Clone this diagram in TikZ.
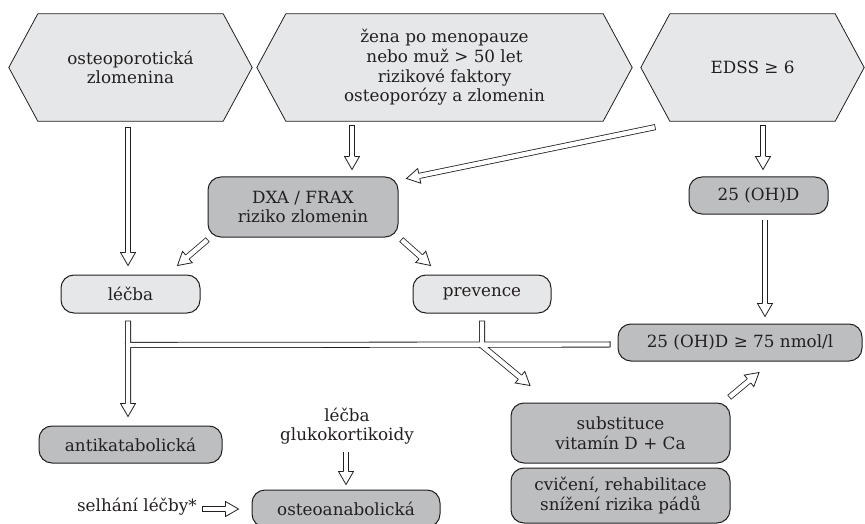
\documentclass[tikz,border=0pt]{standalone}
\usepackage{fontspec}
\setmainfont{DejaVu Serif}
\usetikzlibrary{calc,backgrounds}
\definecolor{ink}{HTML}{231F20}
\definecolor{lightg}{HTML}{E6E7E8}
\definecolor{darkg}{HTML}{BCBEC0}
\newcommand\arrL{13pt}
\newcommand\arrW{7.5pt}
\newcommand\arrS{2.6pt}
\tikzset{
  txt/.style={font=\fontsize{16.8}{19.6}\selectfont, text=ink, align=center, inner sep=0pt},
  hexnode/.style={txt, minimum height=107pt},
  rbox/.style={txt, draw=ink, line width=1pt, rounded corners=13pt, fill=#1},
  hexline/.style={fill=lightg, draw=ink, line width=0.8pt},
  shaft/.style={draw=ink, line width=0.8pt, double=white, double distance=4.4pt, line cap=rect},
  headline/.style={draw=ink, line width=0.8pt, line join=miter},
}
% head of a hollow arrow pointing from #1 to #2, tip at #2
\newcommand\hhead[2]{%
  \fill[white] let \p1=#1, \p2=#2, \n1={atan2(\y2-\y1,\x2-\x1)} in
    (\p2) -- ($(\p2)+(\n1+180:\arrL)+(\n1+90:\arrW)$) -- ($(\p2)+(\n1+180:\arrL)+(\n1-90:\arrW)$) -- cycle;
  \draw[headline] let \p1=#1, \p2=#2, \n1={atan2(\y2-\y1,\x2-\x1)} in
    ($(\p2)+(\n1+180:\arrL)+(\n1+90:\arrS)$) -- ($(\p2)+(\n1+180:\arrL)+(\n1+90:\arrW)$) -- (\p2)
    -- ($(\p2)+(\n1+180:\arrL)+(\n1-90:\arrW)$) -- ($(\p2)+(\n1+180:\arrL)+(\n1-90:\arrS)$);
}
% complete hollow arrow from #1 to #2
\newcommand\harrow[2]{%
  \draw[shaft] let \p1=#1, \p2=#2, \n1={atan2(\y2-\y1,\x2-\x1)} in
    (\p1) -- ($(\p2)+(\n1+180:\arrL)$);
  \hhead{#1}{#2}%
}
\newcommand\hexshape[1]{%
  \draw[hexline] (#1.west) -- ([xshift=29pt]#1.north west) -- ([xshift=-29pt]#1.north east)
    -- (#1.east) -- ([xshift=-29pt]#1.south east) -- ([xshift=29pt]#1.south west) -- cycle;}
\begin{document}
\begin{tikzpicture}[x=1pt,y=-1pt]
\useasboundingbox (0,0) rectangle (865,524);

% top hexagons
\node[hexnode, minimum width=243pt] (h1) at (130.5,67.5) {osteoporotická\\zlomenina};
\node[hexnode, minimum width=375pt] (h2) at (444.5,67.5) {žena po menopauze\\nebo muž > 50 let\\rizikové faktory\\osteoporózy a zlomenin};
\node[hexnode, minimum width=223pt] (h3) at (752.5,67.5) {EDSS ≥ 6};
\begin{scope}[on background layer]
  \hexshape{h1}\hexshape{h2}\hexshape{h3}
\end{scope}

% boxes
\node[rbox=darkg, minimum width=190pt, minimum height=60pt] (dxa) at (303,207) {DXA / FRAX\\riziko zlomenin};
\node[rbox=lightg, minimum width=139pt, minimum height=38pt] (lecba) at (130.5,294) {léčba};
\node[rbox=lightg, minimum width=138pt, minimum height=38pt] (prev) at (482,294) {prevence};
\node[rbox=darkg, minimum width=139pt, minimum height=37pt] (oh) at (758.5,195.5) {25 (OH)D};
\node[rbox=darkg, minimum width=244pt, minimum height=37pt] (oh75) at (740,342.5) {25 (OH)D ≥ 75 nmol/l};
\node[rbox=darkg, minimum width=219pt, minimum height=60pt] (subst) at (620.5,433) {substituce\\vitamín D + Ca};
\node[rbox=darkg, minimum width=219pt, minimum height=55pt] (cvic) at (620.5,495.5) {cvičení, rehabilitace\\snížení rizika pádů};
\node[rbox=darkg, minimum width=183pt, minimum height=37pt] (anti) at (130.5,444.5) {antikatabolická};
\node[rbox=darkg, minimum width=188pt, minimum height=37pt] (osteo) at (346,508.5) {osteoanabolická};
\node[txt] (glu) at (347,426) {léčba\\glukokortikoidy};
\node[txt, anchor=east] (selh) at (197,507) {selhání léčby*};

% simple hollow arrows
\harrow{($(h1.south)+(-2.5,9)$)}{($(lecba.north)+(-2.5,-9)$)}
\harrow{($(h2.south)+(-92.5,7)$)}{($(dxa.north)+(49,-7)$)}
\harrow{($(h3.south)+(-100,6.5)$)}{($(dxa.north east)+(8,2)$)}
\harrow{($(dxa.south west)+(-2,4)$)}{($(lecba.north east)+(-23,-9)$)}
\harrow{($(dxa.south east)+(5,4)$)}{($(prev.north west)+(18,-9)$)}
\harrow{($(h3.south)+(10.5,7)$)}{($(oh.north)+(4.5,-7)$)}
\harrow{($(oh.south)+(6.5,8)$)}{($(oh75.north)+(25,-7)$)}
\harrow{($(subst.north east)+(1,-7)$)}{($(oh75.south)+(19,11)$)}
\harrow{($(glu.south)+(-1,10)$)}{($(osteo.north)+(0,-5)$)}
\harrow{($(selh.east)+(8,2)$)}{($(osteo.west)+(-13,0.5)$)}

% branching connector
\coordinate (lstem) at ($(lecba.south)+(-2.5,10)$);
\coordinate (antitip) at ($(anti.north)+(-2.5,-9)$);
\coordinate (bandL) at ($(lecba.south)+(-2.5,31.5)$);
\coordinate (bandR) at ($(oh75.west)+(-10,2)$);
\coordinate (pstem) at ($(prev.south)+(0,10)$);
\coordinate (pjoin) at ($(prev.south)+(1,33)$);
\coordinate (subtip) at ($(subst.north)+(-90.5,-17)$);
\draw[shaft] (lstem) -- ($(antitip)!\arrL!(lstem)$)
  (bandL) -- (bandR)
  (pstem) -- ($(prev.south)+(0,31.5)$)
  (pjoin) -- ($(subtip)!\arrL!(pjoin)$);
\hhead{(lstem)}{(antitip)}
\hhead{(pjoin)}{(subtip)}
\end{tikzpicture}
\end{document}
